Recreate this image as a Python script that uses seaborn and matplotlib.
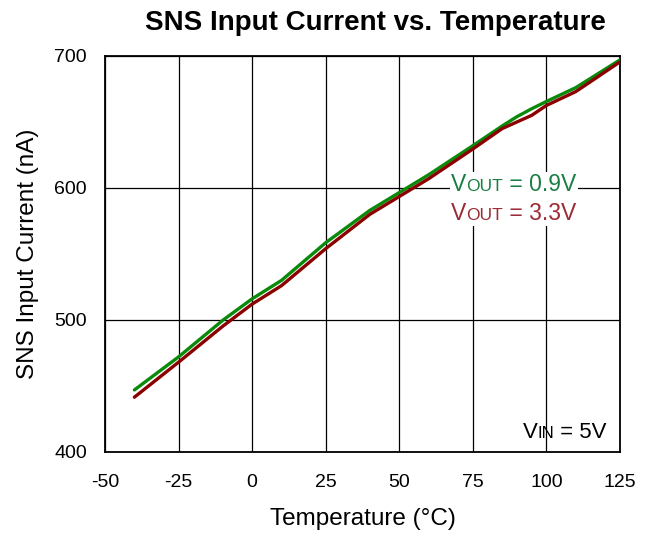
import pandas as pd
import seaborn as sns
import matplotlib.pyplot as plt
from matplotlib.offsetbox import TextArea, HPacker, VPacker, AnnotationBbox

# Values
temp = [-40, -25, -10, 0, 10, 25, 40, 50, 60, 75, 85, 90, 95, 100, 110, 125]
i_vout_09 = [447, 472, 499.7, 516, 530, 558.5, 583, 596.5, 610, 632, 647, 654, 660, 665.5, 676, 697]
i_vout_33 = [441.5, 468, 495.2, 512, 526, 554, 580, 593.5, 607, 629.5, 645, 650, 655, 662.5, 673, 695.5]
x_ticks = [-50, -25, 0, 25, 50, 75, 100, 125]
y_ticks = [400, 500, 600, 700]

df = pd.DataFrame({
    'Temperature': temp * 2,
    'Current': i_vout_09 + i_vout_33,
    'Vout': ['0.9V'] * len(temp) + ['3.3V'] * len(temp),
})

sns.set_theme(style='white')
plt.rcParams['font.family'] = ['Liberation Sans', 'DejaVu Sans']
plt.rcParams['axes.unicode_minus'] = False
plt.rcParams['text.color'] = 'black'
plt.rcParams['axes.labelcolor'] = 'black'

line_colors = {'0.9V': '#0a8a0a', '3.3V': '#8b0000'}
text_colors = {'0.9V': '#1a7f45', '3.3V': '#9b2b35'}

fig = plt.figure(figsize=(6.56, 5.34), dpi=100)
ax = fig.add_axes([0.160, 0.1536, 0.785, 0.7416])

sns.lineplot(data=df, x='Temperature', y='Current', hue='Vout', palette=line_colors,
             linewidth=2.4, legend=False, ax=ax, zorder=3)

ax.set_xlim(-50, 125)
ax.set_ylim(400, 700)
ax.set_xticks(x_ticks)
ax.set_yticks(y_ticks)
ax.grid(True, color='black', linewidth=0.9)
for s in ax.spines.values():
    s.set_color('black')
    s.set_linewidth(1.3)
ax.tick_params(length=0, labelsize=14, colors='black')
ax.tick_params(axis='x', pad=16)
ax.tick_params(axis='y', pad=13)

ax.set_title('SNS Input Current vs. Temperature', fontsize=20, fontweight='bold', pad=19, x=0.525)
ax.set_xlabel('Temperature (°C)', fontsize=17.5, labelpad=12)
ax.set_ylabel('SNS Input Current (nA)', fontsize=17.5, labelpad=11)


def label_row(main, sub, rest, color, size=16.5):
    parts = [
        TextArea(main, textprops=dict(color=color, fontsize=size)),
        TextArea(sub, textprops=dict(color=color, fontsize=size * 0.76)),
        TextArea(rest, textprops=dict(color=color, fontsize=size)),
    ]
    return HPacker(children=parts, align='baseline', pad=0, sep=0)


rows = VPacker(children=[
    label_row('V', 'OUT', ' = 0.9V', text_colors['0.9V']),
    label_row('V', 'OUT', ' = 3.3V', text_colors['3.3V']),
], align='left', pad=0, sep=4)
box = AnnotationBbox(rows, (67.7, 591.5), xycoords='data', box_alignment=(0, 0.5),
                     frameon=True, pad=0.1, bboxprops=dict(facecolor='white', edgecolor='none'))
box.set_zorder(4)
ax.add_artist(box)

vin = AnnotationBbox(label_row('V', 'IN', ' = 5V', 'black', size=16), (120.5, 415), xycoords='data',
                     box_alignment=(1, 0.5), frameon=False)
ax.add_artist(vin)

fig.savefig('out.png', dpi=100)
